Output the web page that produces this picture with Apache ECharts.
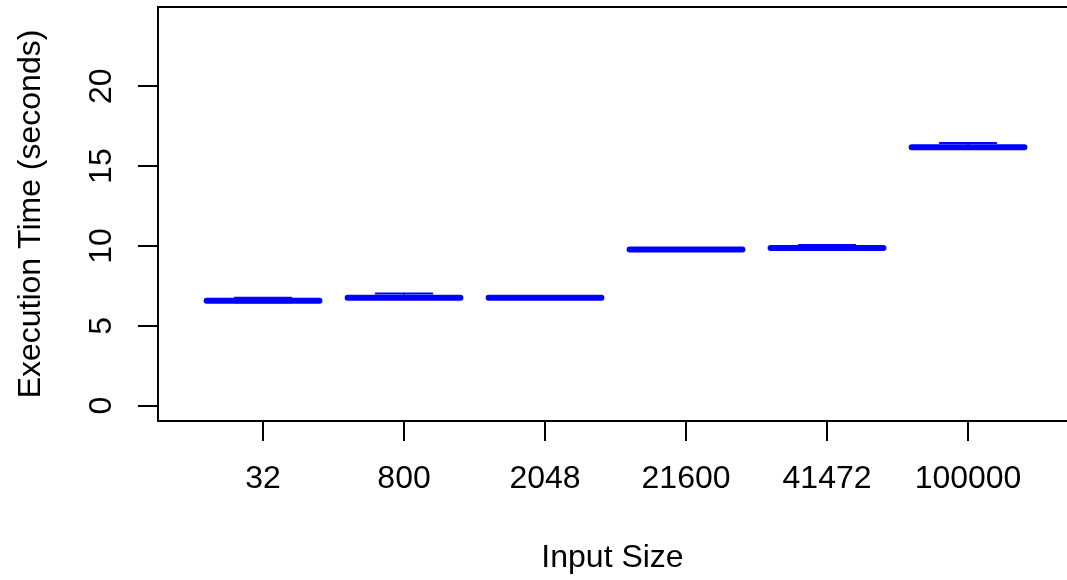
<!DOCTYPE html>
<html>
<head>
<meta charset="utf-8">
<script src="https://cdn.jsdelivr.net/npm/echarts@6/dist/echarts.min.js"></script>
<style>
  html, body { margin: 0; padding: 0; background: #fff; }
  #chart { width: 1067px; height: 580px; }
</style>
</head>
<body>
<div id="chart"></div>
<script>
// Input sizes (one box per size)
const inputSizes = ['32', '800', '2048', '21600', '41472', '100000'];
// Five-number summaries of execution time in seconds
const lowerWhisker = [6.48, 6.68, 6.70, 9.71, 9.80, 16.10];
const lowerQuartile = [6.53, 6.72, 6.72, 9.74, 9.83, 16.14];
const medianTime = [6.57, 6.76, 6.76, 9.78, 9.87, 16.18];
const upperQuartile = [6.61, 6.81, 6.80, 9.83, 9.92, 16.23];
const upperWhisker = [6.75, 7.03, 6.84, 9.86, 10.06, 16.45];
// Tick values on the time axis
const yTicks = [0, 5, 10, 15, 20];

const boxData = inputSizes.map((_, i) => [
  i + 1, lowerWhisker[i], lowerQuartile[i], medianTime[i], upperQuartile[i], upperWhisker[i]
]);

const BOX_HALF = 0.4;    // half box width, in category units
const STAPLE_HALF = 0.2; // half whisker-cap width
const BLUE = '#0000ff';

function renderBox(params, api) {
  const x = api.value(0);
  const lo = api.value(1), q1 = api.value(2), med = api.value(3), q3 = api.value(4), hi = api.value(5);
  const p = (vx, vy) => api.coord([vx, vy]);
  const boxTL = p(x - BOX_HALF, q3);
  const boxBR = p(x + BOX_HALF, q1);
  const line = (a, b, w) => ({
    type: 'line',
    shape: { x1: a[0], y1: a[1], x2: b[0], y2: b[1] },
    style: { stroke: BLUE, lineWidth: w, lineCap: 'round' }
  });
  return {
    type: 'group',
    children: [
      // whiskers
      line(p(x, hi), p(x, q3), 1.5),
      line(p(x, q1), p(x, lo), 1.5),
      // whisker caps
      line(p(x - STAPLE_HALF, hi), p(x + STAPLE_HALF, hi), 2),
      line(p(x - STAPLE_HALF, lo), p(x + STAPLE_HALF, lo), 2),
      // box
      {
        type: 'rect',
        shape: { x: boxTL[0], y: boxTL[1], width: boxBR[0] - boxTL[0], height: boxBR[1] - boxTL[1] },
        style: { fill: '#fff', stroke: BLUE, lineWidth: 2.5 }
      },
      // median
      line(p(x - BOX_HALF, med), p(x + BOX_HALF, med), 6)
    ]
  };
}

const chart = echarts.init(document.getElementById('chart'), null, { renderer: 'canvas' });
const FONT = 'Liberation Sans, Arial, sans-serif';
const FS = 32;
const frameLine = { show: true, onZero: false, lineStyle: { color: '#000', width: 2 } };

chart.setOption({
  backgroundColor: '#ffffff',
  animation: false,
  // the plot frame continues past the right edge of the canvas
  grid: {
    left: 158, right: 0, top: 7, bottom: 159,
    outerBoundsMode: 'none',
    show: false
  },
  xAxis: [{
    type: 'value',
    min: 0.255, max: 6.702,
    name: 'Input Size',
    nameLocation: 'middle',
    nameGap: 121,
    nameTextStyle: { color: '#000', fontFamily: FONT, fontSize: FS, verticalAlign: 'top' },
    axisLine: frameLine,
    splitLine: { show: false },
    axisTick: {
      show: true, inside: false, length: 20,
      customValues: inputSizes.map((_, i) => i + 1),
      lineStyle: { color: '#000', width: 2 }
    },
    axisLabel: {
      color: '#000', fontFamily: FONT, fontSize: FS, margin: 42,
      customValues: inputSizes.map((_, i) => i + 1),
      formatter: v => inputSizes[Math.round(v) - 1] || ''
    }
  }, {
    // top edge of the frame
    type: 'value', position: 'top',
    min: 0.255, max: 6.702,
    axisLine: frameLine,
    axisTick: { show: false }, axisLabel: { show: false }, splitLine: { show: false }
  }],
  yAxis: {
    type: 'value',
    min: -0.96, max: 24.96,
    name: 'Execution Time (seconds)',
    nameLocation: 'middle',
    nameGap: 111,
    nameRotate: 90,
    nameTextStyle: { color: '#000', fontFamily: FONT, fontSize: FS },
    axisLine: frameLine,
    splitLine: { show: false },
    axisTick: {
      show: true, inside: false, length: 20,
      customValues: yTicks,
      lineStyle: { color: '#000', width: 2 }
    },
    axisLabel: {
      color: '#000', fontFamily: FONT, fontSize: FS, margin: 40, rotate: 90,
      customValues: yTicks
    }
  },
  series: [{
    type: 'custom',
    renderItem: renderBox,
    encode: { x: 0, y: [1, 2, 3, 4, 5] },
    data: boxData,
    clip: true
  }]
});
</script>
</body>
</html>
